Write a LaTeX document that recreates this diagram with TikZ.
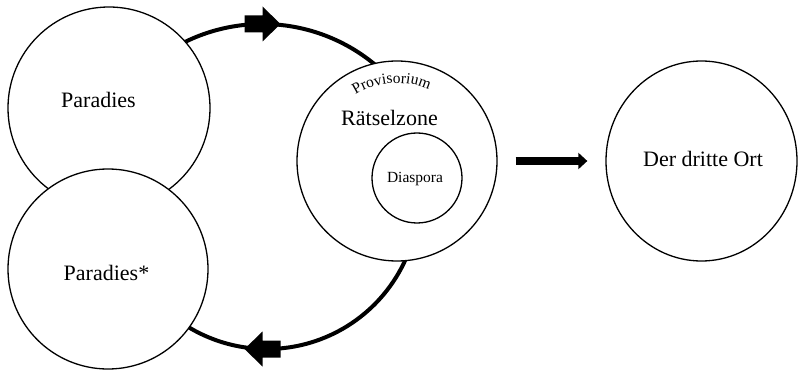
\documentclass[tikz,border=0pt]{standalone}
\usepackage{fontspec}
\setmainfont{Liberation Serif}
\usetikzlibrary{arrows.meta,shapes.geometric,decorations.text,calc}
\begin{document}
\begin{tikzpicture}[x=1pt,y=1pt,
  ring/.style={circle,draw,line width=1.3pt,fill=white,inner sep=0pt},
  lbl/.style={anchor=base,inner sep=0pt,font=\fontsize{22}{26}\selectfont},
  smalllbl/.style={anchor=base,inner sep=0pt,font=\fontsize{15.5}{18}\selectfont},
  cyclearc/.style={line width=4pt},
  bigarrow/.style={line width=8pt,-{Triangle[length=9pt,width=16pt]}},
  blockarrow/.pic={\fill (-18,-8.5) -- (0,-8.5) -- (0,-17.5) -- (18,0) -- (0,17.5) -- (0,8.5) -- (-18,8.5) -- cycle;}
]
\useasboundingbox (0,0) rectangle (798,370);
% centres of the two cycle arcs
\coordinate (topc) at (262.5,170);
\coordinate (botc) at (267,173);
\draw[cyclearc] ($(topc)+(125:176)$) arc[start angle=125,end angle=45,radius=176];
\draw[cyclearc] ($(botc)+(-15:152)$) arc[start angle=-15,end angle=-130,radius=152];
\pic at (262.5,346) {blockarrow};
\pic[rotate=180] at (262.5,21) {blockarrow};
% circles
\node[ring,minimum size=202pt] (par) at (109,262) {};
\node[ring,minimum size=200pt] (pars) at (108,101) {};
\node[ring,minimum size=200pt] (rz) at (397,209) {};
\node[ring,minimum size=90pt] (dia) at (417,192) {};
\node[ring,ellipse,minimum width=191pt,minimum height=200pt] (dto) at (701.5,209) {};
% labels
\node[lbl] (tpar) at (98.5,262) {Paradies};
\node[lbl] (tpars) at (106.5,90) {Paradies*};
\node[lbl] (trz) at (389.5,244) {Rätselzone};
\node[smalllbl] (tdia) at (415,187) {Diaspora};
\node[lbl] (tdto) at (703,203) {Der dritte Ort};
\path[decorate,decoration={text along path,text align=center,
  text={|\fontsize{15.5}{18}\selectfont|Provisorium}}]
  ($(rz.center)+(134:78)$) arc[start angle=134,end angle=54,radius=78];
% arrow to the third place
\draw[bigarrow,shorten <=18pt,shorten >=18pt] (rz) -- (dto);
\end{tikzpicture}
\end{document}
